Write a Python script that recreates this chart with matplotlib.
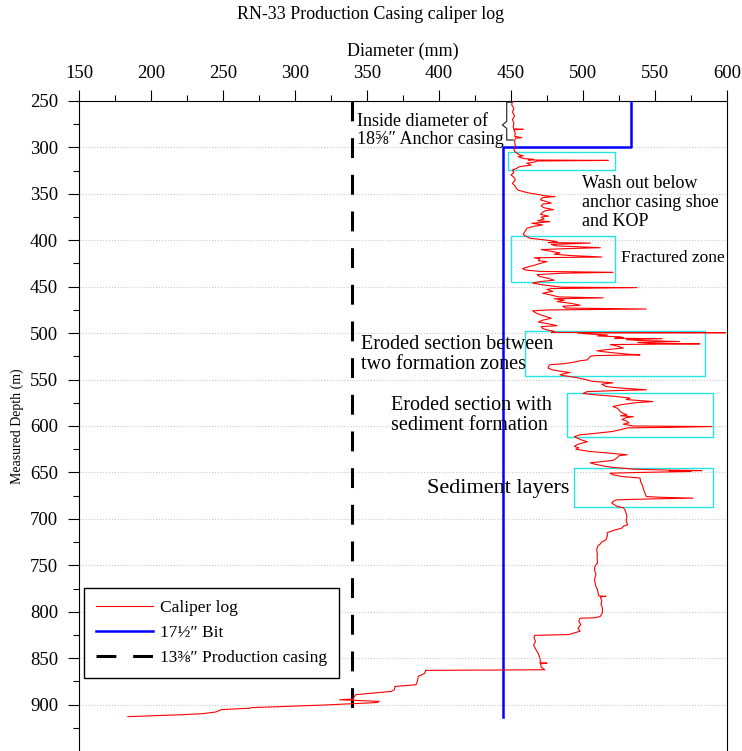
import matplotlib
matplotlib.use("Agg")
import matplotlib.pyplot as plt
from matplotlib.patches import Rectangle

plt.rcParams["font.family"] = ["Liberation Serif", "DejaVu Serif"]
plt.rcParams["font.size"] = 12.5

# caliper log: measured depth (m) and diameter (mm)
depth = [250, 254, 258, 262, 266, 270, 274, 278, 280, 280.5, 281, 285, 288, 289.5, 290,
         294, 298, 302, 304, 306, 308, 309, 310, 311, 312, 312.8, 313.5, 314, 314.6, 315.5,
         317, 319, 320.7, 322.5, 324.3, 327, 329.7, 332, 335, 338.6, 341, 344, 346, 347.6,
         349.4, 351, 352, 353, 354, 356.5, 358, 360, 361, 363, 365, 367, 368, 370, 372,
         374, 375, 377, 379, 380, 381.7, 383.5, 385, 387, 390, 392, 394, 396, 397.8, 399,
         400.5, 401.5, 402.5, 403, 404.5, 406, 408, 409, 410, 412, 413.6, 415, 416.5, 418,
         418.8, 420, 422, 423, 425, 427, 429, 430.5, 432, 433.5, 434.5, 435.5, 437, 439,
         441, 443, 444.5, 446, 448, 450.5, 451, 452, 453, 455, 457, 459, 461, 462, 463,
         464.5, 466, 468, 470, 471, 473, 474, 475, 476, 478, 480, 482, 484, 486, 488, 490,
         492, 493, 495, 496.5, 498, 499.2, 499.5, 499.8, 501, 502, 503, 504, 505, 505.5,
         506, 507, 508, 509, 510, 511, 511.5, 512.3, 514, 516, 517.5, 519, 520, 521, 522.5,
         523.4, 524.2, 525, 527, 528.8, 530, 531.5, 533, 534, 536, 537.6, 539.6, 541, 542.4,
         543.5, 545, 546.5, 548, 550, 552, 553.5, 555, 557.5, 559, 561, 562, 563, 565,
         566.5, 568, 570, 571.5, 573.7, 574.5, 575, 577, 579, 581, 584.5, 586.5, 588, 589,
         590, 591, 593, 594.5, 596.6, 598, 600, 600.6, 601.5, 602, 604, 606, 608, 609.5,
         611.4, 613, 615, 617, 618.5, 620, 622, 623.5, 625, 627.5, 629, 631, 632, 634.3,
         637, 639.7, 641, 643, 644.5, 645.4, 646.5, 647.5, 648, 648.6, 649, 650, 650.8,
         652.6, 654.4, 656, 660, 663, 668, 672.3, 676, 676.8, 677.7, 678.5, 679.5, 681, 683,
         685, 686.7, 688, 690, 694, 697.5, 702, 706.4, 708, 710, 712, 715, 718, 722.6, 725,
         727, 729, 733, 738, 742, 747.6, 751, 755, 760, 765, 770, 773, 776, 780, 783, 783.5,
         784, 788, 792, 796, 801, 805, 806.5, 807, 810, 814, 818, 821, 823, 824.6, 825.5,
         828, 832, 836, 840, 845, 850, 853, 855, 855.4, 856, 860, 862.5, 863.2, 866.5, 869.6,
         875, 878.6, 880.5, 884, 885.8, 889.4, 892, 894, 894.8, 896.6, 897.8, 900.5, 903.3,
         904, 905.4, 908, 909.8, 911, 913]
diameter = [451, 450.5, 452, 451, 452.5, 451, 452, 451.5, 452, 458.5, 452, 453, 452.5, 457.5, 453,
            452.5, 453, 452, 452.5, 454, 456, 458.5, 455, 457, 459, 465.5, 462, 517.5, 468, 467,
            461, 464, 456, 454, 451, 452, 450, 452, 453, 451, 452.5, 453.7, 455, 458.6,
            463.5, 470, 473, 480.5, 472, 470.5, 474, 478, 472, 471, 473, 479.5, 474, 472, 470.5,
            476, 471, 473, 468.5, 477, 464.5, 472, 466, 461, 460, 459, 458.5, 461, 463, 470,
            478, 482, 476, 505, 478, 481, 512, 488, 471, 478, 484, 480, 492, 513,
            466, 470, 469, 475, 470, 466, 461, 458, 460, 470, 521, 485, 468, 470,
            476, 480, 470, 465, 472, 485, 537.5, 478, 475, 479, 472, 478, 483, 514, 480,
            487, 482, 492, 498, 486, 488, 544, 476, 465, 467, 470, 474, 478, 472, 469, 476,
            482, 471, 472, 475, 480, 478, 599, 496, 505, 517, 510, 526, 528, 522,
            555, 530, 540, 567, 538, 548, 581, 519, 524, 528, 518, 509.7, 514, 520, 530,
            539.6, 508, 505, 504, 503, 497, 493, 486, 477, 476, 475.7, 479, 484, 491,
            487, 484, 490, 495.8, 502, 507, 520.8, 513, 516, 525, 544, 520, 502.8, 500,
            509, 522, 532.6, 530, 548.6, 540, 536, 527, 520.8, 524, 526, 528, 530.6, 526,
            535, 530, 527, 530, 532, 528, 535, 589.6, 560, 531, 526, 520, 508, 498,
            494, 496, 499, 503, 499, 496, 494, 497, 495, 505, 517, 530.6, 525, 523.6,
            521, 505, 508, 514, 520, 527.8, 535, 560, 582.6, 560, 575, 540, 518.7,
            521, 527, 539.6, 540, 541, 542, 543, 544, 555, 576.4, 548, 523.6, 521, 520,
            522, 524, 528, 529, 530, 530.5, 530, 531, 528, 527, 522, 516.7, 517, 516, 513,
            512, 510.4, 509.5, 510, 509.8, 510, 508.3, 508, 509, 508, 508.5, 509, 510, 510.5, 511, 516,
            512, 513, 512.5, 513.5, 513.5, 512, 508.5, 498, 497, 498.5, 496.5, 498, 493.6, 490, 466.3,
            466, 467, 465.7, 467, 469, 470, 470.5, 470, 475, 470.5, 471, 473.5, 390.7, 390, 385.6,
            385, 384, 369.4, 369, 367, 342, 341, 340.5, 331, 358.5, 357, 320, 270,
            268, 249, 245, 236, 220, 184]

# 17-1/2" bit profile below the anchor casing shoe
bit_depth = [250, 300, 300, 913]
bit_diam = [533.4, 533.4, 444.5, 444.5]

# 13-3/8" production casing inside diameter
casing_depth = [250, 913]
casing_diam = [339.7, 339.7]

# highlighted zones: (x0, depth0, x1, depth1)
zones = [(448, 305, 522, 324), (450, 395, 522, 445), (460, 498, 585, 546),
         (489, 565, 590, 612), (494, 645, 590, 687)]

fig = plt.figure(figsize=(7.42, 7.51), dpi=100)
ax = fig.add_axes([79 / 742, 0, 648 / 742, 650 / 751])

ax.plot(diameter, depth, color="red", lw=0.8, label="Caliper log", zorder=4)
ax.plot(bit_diam, bit_depth, color="#0000ff", lw=1.8, label="17½\u2033 Bit", zorder=3)
ax.plot(casing_diam, casing_depth, color="black", lw=2.2, ls=(0, (6.5, 5.5)),
        label="13⅜\u2033 Production casing", zorder=3)

for x0, y0, x1, y1 in zones:
    ax.add_patch(Rectangle((x0, y0), x1 - x0, y1 - y0, fill=False,
                           edgecolor="#22e5e5", lw=1.0, zorder=2))

# brace marking the anchor casing section
brace_x = [451, 447, 447, 444, 447, 447, 451.6]
brace_y = [251.4, 251.4, 272, 275.8, 279.4, 292, 292]
ax.plot(brace_x, brace_y, color="#333333", lw=0.9, zorder=3)

ax.text(343, 281.5, "Inside diameter of\n18⅝\u2033 Anchor casing", fontsize=13,
        va="center", ha="left", linespacing=1.05)
ax.text(499.3, 359, "Wash out below\nanchor casing shoe\nand KOP", fontsize=13,
        va="center", ha="left", linespacing=1.15)
ax.text(526.4, 419, "Fractured zone", fontsize=12.5, va="center", ha="left")
ax.text(345.8, 523, "Eroded section between\ntwo formation zones", fontsize=14.5,
        va="center", ha="left", linespacing=1.1)
ax.text(366.7, 588.5, "Eroded section with\nsediment formation", fontsize=14.5,
        va="center", ha="left", linespacing=1.1)
ax.text(391.7, 667.7, "Sediment layers", fontsize=16, va="center", ha="left")

ax.set_xlim(150, 600)
ax.set_ylim(950, 250)
ax.xaxis.tick_top()
ax.xaxis.set_label_position("top")
ax.set_xticks(range(150, 601, 50))
ax.set_xticks(range(175, 600, 50), minor=True)
ax.set_yticks(range(250, 901, 50))
ax.set_yticks(range(275, 950, 50), minor=True)
ax.tick_params(which="major", direction="out", length=8, width=0.8, labelsize=13.5)
ax.tick_params(which="minor", direction="out", length=4.5, width=0.8)
ax.tick_params(axis="x", which="major", pad=6)
ax.tick_params(axis="y", which="major", pad=7)
ax.tick_params(axis="x", which="both", top=True, bottom=False)
ax.tick_params(axis="y", which="both", left=True, right=False)
ax.spines["bottom"].set_visible(False)
for s in ("top", "left", "right"):
    ax.spines[s].set_linewidth(0.8)

ax.grid(axis="y", which="major", ls=":", color="#c8c8c8", lw=0.8, zorder=0)
ax.set_axisbelow(True)

ax.set_xlabel("Diameter (mm)", fontsize=13, labelpad=6)
ax.set_ylabel("Measured Depth (m)", fontsize=10, labelpad=4)
fig.suptitle("RN-33 Production Casing caliper log", fontsize=13, y=0.992, va="top")

ax.legend(loc="lower left", bbox_to_anchor=(0.0077, 0.112), borderaxespad=0,
          fancybox=False, edgecolor="black", framealpha=1, fontsize=12.5,
          handlelength=3.3, handletextpad=0.35, labelspacing=0.5, borderpad=0.7)

fig.savefig("out.png", dpi=100)
